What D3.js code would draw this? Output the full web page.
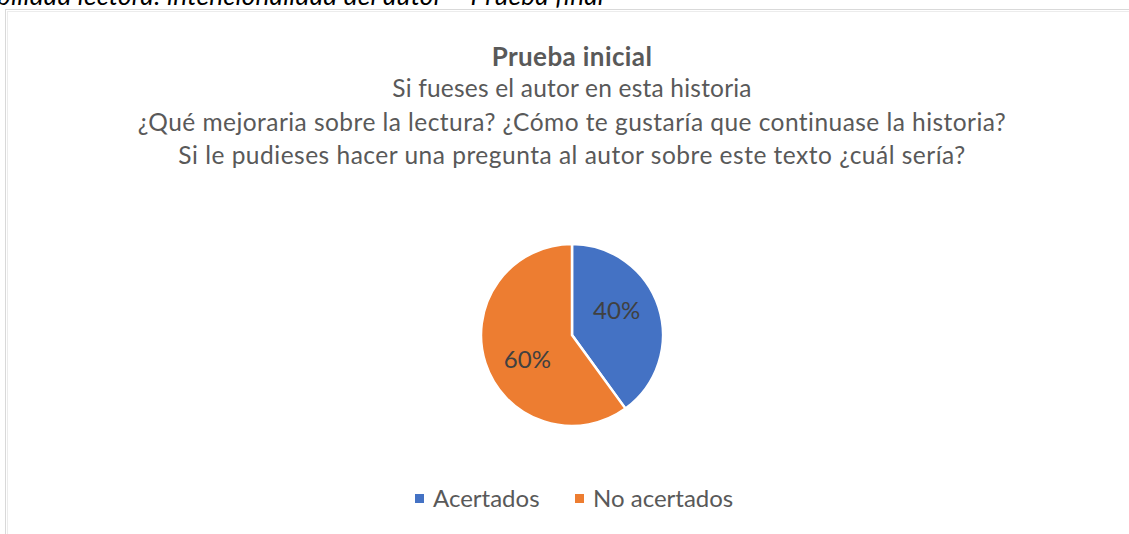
<!DOCTYPE html>
<html>
<head>
<meta charset="utf-8">
<script src="https://cdn.jsdelivr.net/npm/d3@7"></script>
<style>
  html, body { margin: 0; padding: 0; background: #fff; }
  svg { display: block; }
</style>
</head>
<body>
<svg id="chart" width="1129" height="534"></svg>
<script>
const categories = ["Acertados", "No acertados"];
const values = [40, 60];
const colors = ["#4472C4", "#ED7D31"];
const caption = "bilidad lectora: intencionalidad del autor – Prueba final";
const titleLines = [
  "Prueba inicial",
  "Si fueses el autor en esta historia",
  "¿Qué mejoraria sobre la lectura? ¿Cómo te gustaría que continuase la historia?",
  "Si le pudieses hacer una pregunta al autor sobre este texto ¿cuál sería?"
];

const svg = d3.select("#chart");
const W = 1129, H = 534;
const font = "Lato, 'Open Sans', sans-serif";

// caption above the chart (cut off at top)
svg.append("text")
  .attr("x", -3).attr("y", 5)
  .attr("font-family", font)
  .attr("font-style", "italic")
  .attr("font-size", 26)
  .attr("letter-spacing", 0.3)
  .attr("fill", "#000")
  .text(caption);

// chart frame
svg.append("rect")
  .attr("x", 5.5).attr("y", 9.5)
  .attr("width", W + 10).attr("height", H + 10)
  .attr("fill", "#fff")
  .attr("stroke", "#d9d9d9").attr("stroke-width", 1);
svg.append("line").attr("x1", 7.5).attr("x2", 7.5).attr("y1", 11).attr("y2", H)
  .attr("stroke", "#ececec");
svg.append("line").attr("x1", 7).attr("x2", W).attr("y1", 11.5).attr("y2", 11.5)
  .attr("stroke", "#ececec");

const cx = 572;
// titles
const titleY = [66, 97, 131, 164];
const titleSpacing = [0.4, 0.2, 0.45, 0.5];
titleLines.forEach((t, i) => {
  svg.append("text")
    .attr("x", cx).attr("y", titleY[i])
    .attr("text-anchor", "middle")
    .attr("font-family", font)
    .attr("font-size", i === 0 ? 26 : 24.5)
    .attr("letter-spacing", titleSpacing[i])
    .attr("font-weight", i === 0 ? "bold" : "normal")
    .attr("fill", "#595959")
    .text(t);
});

// pie
const cy = 335, r = 91;
const pie = d3.pie().sort(null).value(d => d)(values);
const arc = d3.arc().innerRadius(0).outerRadius(r);
const labelArc = d3.arc().innerRadius(r * 0.56).outerRadius(r * 0.56);
const g = svg.append("g").attr("transform", `translate(${cx},${cy})`);
g.selectAll("path").data(pie).enter().append("path")
  .attr("d", arc)
  .attr("fill", (d, i) => colors[i])
  .attr("stroke", "#fff").attr("stroke-width", 2.5).attr("stroke-linejoin", "miter");
g.selectAll("text").data(pie).enter().append("text")
  .attr("transform", d => {
    const c = labelArc.centroid({startAngle: d.startAngle - 0.19, endAngle: d.endAngle - 0.19});
    return `translate(${c})`;
  })
  .attr("text-anchor", "middle")
  .attr("dy", "0.36em")
  .attr("font-family", font)
  .attr("font-size", 24)
  .attr("fill", "#404040")
  .text(d => d.data + "%");

// legend
const legendX = [415, 575];
categories.forEach((c, i) => {
  svg.append("rect")
    .attr("x", legendX[i]).attr("y", 494)
    .attr("width", 9).attr("height", 9)
    .attr("fill", colors[i]);
  svg.append("text")
    .attr("x", legendX[i] + 18).attr("y", 507)
    .attr("font-family", font)
    .attr("font-size", 24)
    .attr("fill", "#595959")
    .text(c);
});
</script>
</body>
</html>
